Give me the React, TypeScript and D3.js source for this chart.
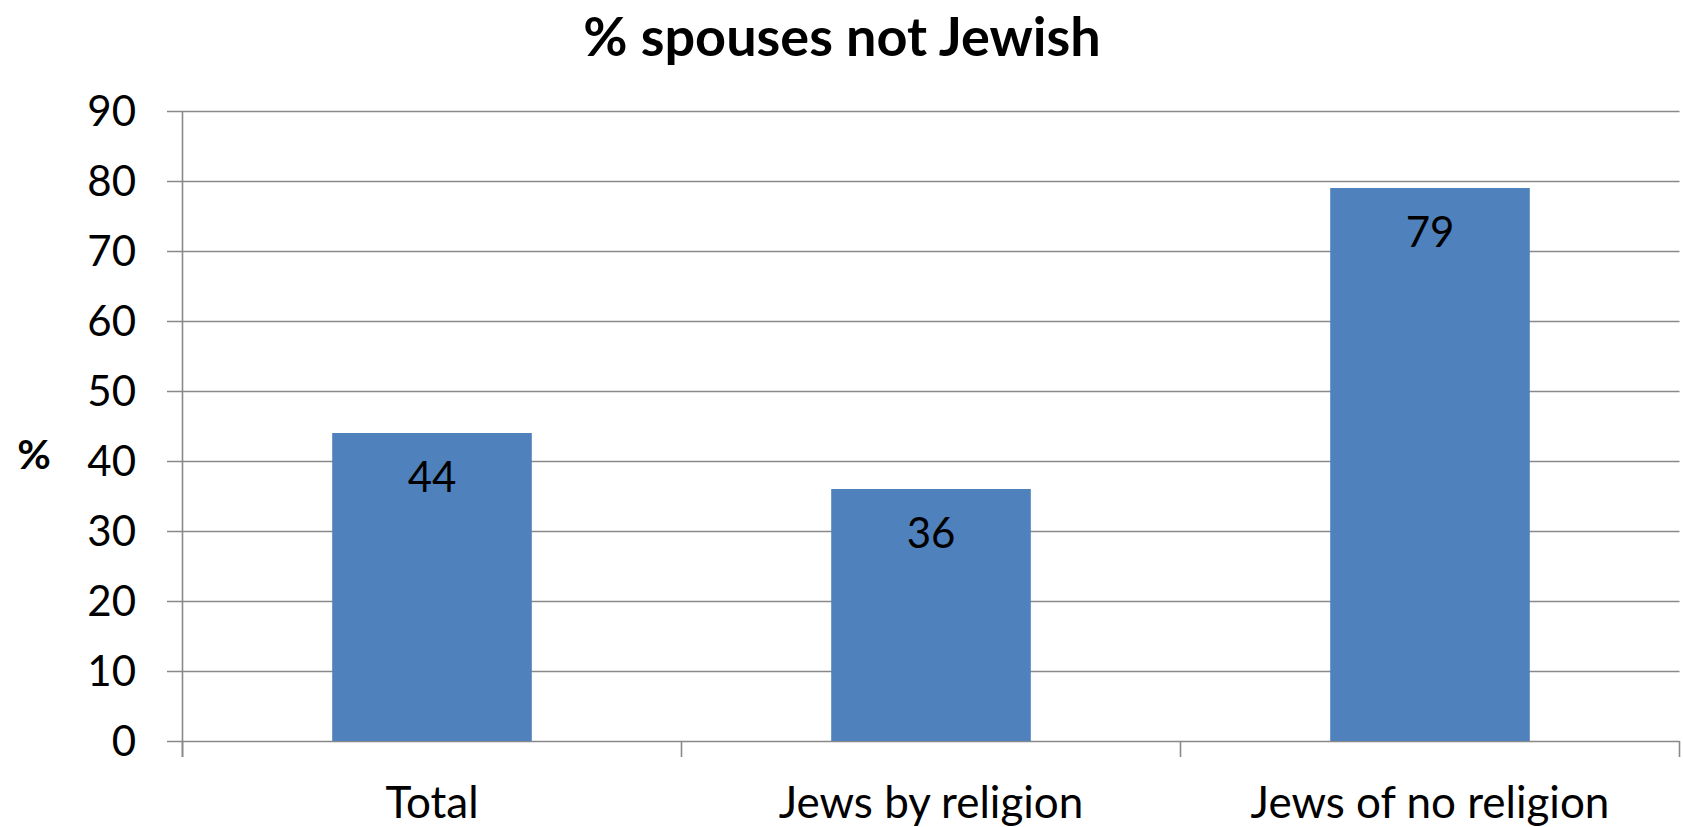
import React from "react";
import * as d3 from "d3";

const categories: string[] = ["Total", "Jews by religion", "Jews of no religion"];
const values: number[] = [44, 36, 79];
const yTicks: number[] = [0, 10, 20, 30, 40, 50, 60, 70, 80, 90];
const title = "% spouses not Jewish";
const yTitle = "%";

const W = 1683;
const H = 827;
const plotLeft = 182.5;
const plotRight = 1679.5;
const plotTop = 111;
const plotBottom = 741;
const barColor = "#4F81BD";
const gridColor = "#898989";
const font = "Lato, 'Open Sans', sans-serif";

export default function App() {
  const x = d3.scaleBand<string>().domain(categories).range([plotLeft, plotRight]).padding(0);
  const y = d3.scaleLinear().domain([0, 90]).range([plotBottom, plotTop]);
  const bw = x.bandwidth() * 0.4;
  const boundaries = d3.range(categories.length + 1).map((i) => plotLeft + i * x.step());

  return (
    <svg
      width={W}
      height={H}
      style={{ position: "absolute", left: 0, top: 0, background: "#fff" }}
      fontFamily={font}
    >
      <rect x={0} y={0} width={W} height={H} fill="#fff" />
      {yTicks.map((t) => (
        <line
          key={"g" + t}
          x1={167}
          x2={plotRight}
          y1={Math.round(y(t)) + 0.5}
          y2={Math.round(y(t)) + 0.5}
          stroke={gridColor}
          strokeWidth={1.6}
        />
      ))}
      <line x1={plotLeft} x2={plotLeft} y1={plotTop} y2={757} stroke={gridColor} strokeWidth={1.6} />
      {boundaries.map((b, i) => (
        <line key={"b" + i} x1={b} x2={b} y1={plotBottom} y2={757} stroke={gridColor} strokeWidth={1.6} />
      ))}
      {categories.map((c, i) => {
        const cx = (x(c) as number) + x.bandwidth() / 2;
        return (
          <rect
            key={"r" + c}
            x={cx - bw / 2}
            y={y(values[i])}
            width={bw}
            height={plotBottom - y(values[i])}
            fill={barColor}
          />
        );
      })}
      {categories.map((c, i) => {
        const cx = (x(c) as number) + x.bandwidth() / 2;
        return (
          <text key={"v" + c} x={cx} y={y(values[i]) + 58.5} textAnchor="middle" fontSize={42} fill="#000">
            {values[i]}
          </text>
        );
      })}
      {yTicks.map((t) => (
        <text key={"t" + t} x={136} y={y(t) + 14.5} textAnchor="end" fontSize={42} fill="#000">
          {t}
        </text>
      ))}
      {categories.map((c) => (
        <text
          key={"c" + c}
          x={(x(c) as number) + x.bandwidth() / 2}
          y={818}
          textAnchor="middle"
          fontSize={44}
          fill="#000"
        >
          {c}
        </text>
      ))}
      <text x={842} y={56} textAnchor="middle" fontSize={54} fontWeight="bold" fill="#000">
        {title}
      </text>
      <text x={34} y={469} textAnchor="middle" fontSize={41} fontWeight="bold" fill="#000">
        {yTitle}
      </text>
    </svg>
  );
}
